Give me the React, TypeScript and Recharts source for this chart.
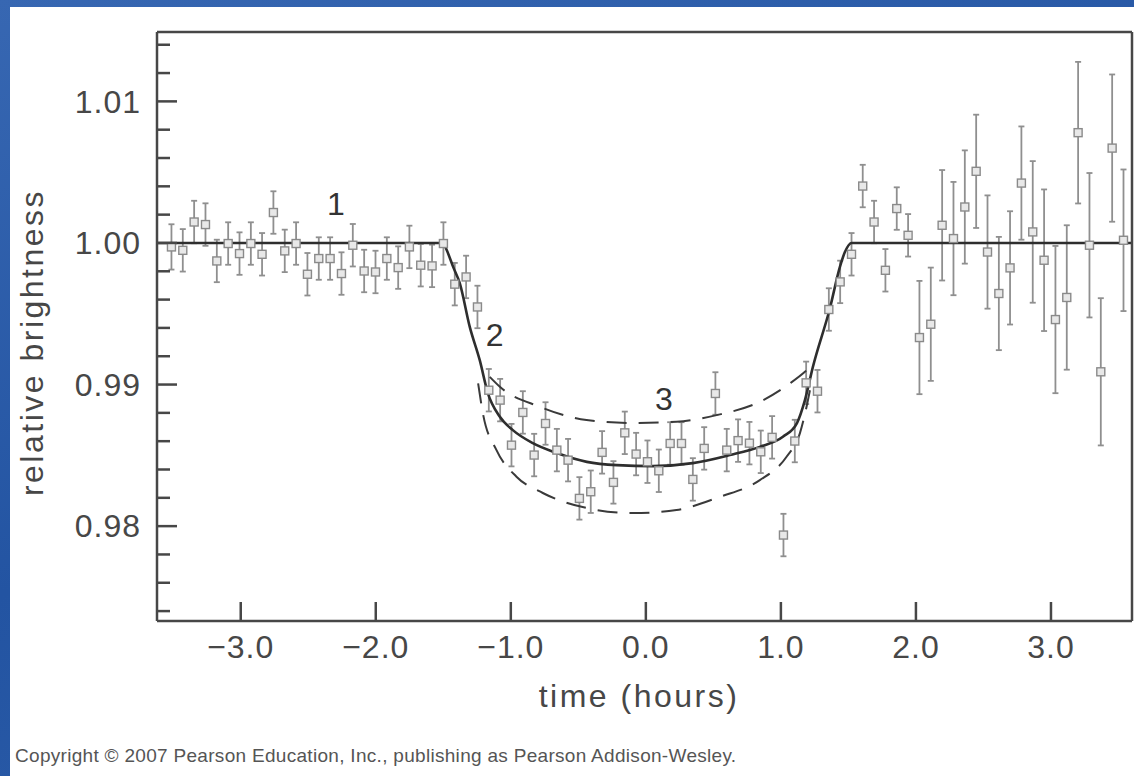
import React from "react";
import { ComposedChart, Scatter, Line, XAxis, YAxis, ErrorBar, ReferenceDot, Label } from "recharts";

const FONT = '"Liberation Sans", Arial, Helvetica, sans-serif';
const INK = "#474747";

// observation times (hours from mid-transit)
const times = [
  -3.513, -3.429, -3.345, -3.261, -3.177, -3.093, -3.009, -2.925, -2.842, -2.758,
  -2.674, -2.59, -2.506, -2.422, -2.338, -2.254, -2.17, -2.086, -2.002, -1.918,
  -1.834, -1.751, -1.667, -1.583, -1.499, -1.415, -1.331, -1.247, -1.163, -1.079,
  -0.995, -0.911, -0.827, -0.743, -0.659, -0.576, -0.492, -0.408, -0.324, -0.24,
  -0.156, -0.072, 0.012, 0.096, 0.18, 0.264, 0.348, 0.432, 0.515, 0.599,
  0.683, 0.767, 0.851, 0.935, 1.019, 1.103, 1.187, 1.271, 1.355, 1.439,
  1.523, 1.606, 1.69, 1.774, 1.858, 1.942, 2.026, 2.11, 2.194, 2.278,
  2.362, 2.446, 2.53, 2.614, 2.697, 2.781, 2.865, 2.949, 3.033, 3.117,
  3.201, 3.285, 3.369, 3.453, 3.537,
];

const brightness = [
  0.99972, 0.99948, 1.00148, 1.0013, 0.99873, 0.99996, 0.99925, 0.99996, 0.9992, 1.00215,
  0.99944, 0.99996, 0.99779, 0.9989, 0.9989, 0.99784, 0.99984, 0.99802, 0.99795, 0.9989,
  0.99826, 0.99972, 0.99843, 0.99838, 0.99996, 0.99709, 0.9976, 0.99548, 0.9896, 0.9889,
  0.98572, 0.98803, 0.98502, 0.98725, 0.98537, 0.98466, 0.98196, 0.98243, 0.98521, 0.98309,
  0.98659, 0.98509, 0.98455, 0.98391, 0.98584, 0.98584, 0.9833, 0.98549, 0.98937, 0.98537,
  0.98604, 0.98586, 0.98525, 0.98627, 0.97937, 0.98601, 0.99012, 0.98953, 0.9953, 0.99725,
  0.9992, 1.00402, 1.00148, 0.99807, 1.00243, 1.00054, 0.99332, 0.99426, 1.00125, 1.00031,
  1.00254, 1.00506, 0.99936, 0.99643, 0.99824, 1.00423, 1.00078, 0.99878, 0.99459, 0.99615,
  1.00779, 0.99984, 0.9909, 1.0067, 1.00019,
];

const errors = [
  0.0016, 0.0015, 0.0015, 0.0015, 0.0015, 0.0015, 0.0015, 0.0015, 0.0015, 0.0015,
  0.0015, 0.0015, 0.0015, 0.0015, 0.0015, 0.0015, 0.0015, 0.0015, 0.0015, 0.0015,
  0.0015, 0.0015, 0.0015, 0.0015, 0.0015, 0.0015, 0.0015, 0.0015, 0.0015, 0.0015,
  0.0015, 0.0015, 0.0015, 0.0015, 0.0015, 0.0015, 0.0015, 0.0015, 0.0015, 0.0015,
  0.0015, 0.0015, 0.0015, 0.0015, 0.0015, 0.0015, 0.0015, 0.0015, 0.0015, 0.0015,
  0.0015, 0.0015, 0.0015, 0.0015, 0.0015, 0.0015, 0.0015, 0.0015, 0.0015, 0.0015,
  0.0015, 0.0015, 0.0015, 0.0015, 0.0015, 0.0015, 0.004, 0.004, 0.0039, 0.004,
  0.004, 0.004, 0.004, 0.004, 0.004, 0.004, 0.005, 0.005, 0.0052, 0.0051,
  0.005, 0.0051, 0.0052, 0.0052, 0.005,
];

// best-fit transit model (solid)
const modelX = [
  -3.62, -1.501, -1.474, -1.427, -1.378, -1.304, -1.23, -1.17, -1.081, -0.985,
  -0.837, -0.659, -0.437, -0.215, 0.052, 0.348, 0.622, 0.844, 1.015, 1.119,
  1.178, 1.237, 1.363, 1.437, 1.474, 1.524, 3.6,
];
const modelY = [
  1.0, 1.0, 0.99948, 0.99831, 0.99716, 0.99407, 0.99172, 0.98939, 0.98772, 0.98678,
  0.98586, 0.98516, 0.98454, 0.98431, 0.98424, 0.98445, 0.98502, 0.9856, 0.98631, 0.98728,
  0.9889, 0.99125, 0.99539, 0.99831, 0.99936, 1.0, 1.0,
];

// alternative models (dashed)
const shallowX = [-1.156, -1.081, -0.785, -0.439, -0.096, 0.227, 0.524, 0.844, 1.067, 1.178, 1.23];
const shallowY = [0.99054, 0.98984, 0.98843, 0.98749, 0.98728, 0.98737, 0.98784, 0.98878, 0.99008, 0.9909, 0.99137];

const deepX = [-1.242, -1.207, -1.106, -0.958, -0.763, -0.439, -0.096, 0.227, 0.548, 0.844, 1.042, 1.141, 1.19, 1.215];
const deepY = [0.99008, 0.98798, 0.98537, 0.98349, 0.98234, 0.98128, 0.98092, 0.98114, 0.98207, 0.98325, 0.9849, 0.98657, 0.98843, 0.9896];

const xTicks = [-3, -2, -1, 0, 1, 2, 3];
const yTicks = [
  0.974, 0.976, 0.978, 0.98, 0.982, 0.984, 0.986, 0.988, 0.99, 0.992, 0.994,
  0.996, 0.998, 1.0, 1.002, 1.004, 1.006, 1.008, 1.01, 1.012, 1.014,
];
const xDomain: [number, number] = [-3.62, 3.6];
const yDomain: [number, number] = [0.9733, 1.0149];

const notes = [
  { text: "1", x: -2.296, y: 1.0028 },
  { text: "2", x: -1.119, y: 0.99356 },
  { text: "3", x: 0.133, y: 0.98897 },
];

const obs = times.map((t, i) => ({ x: t, y: brightness[i], err: errors[i] }));
const model = modelX.map((x, i) => ({ x, y: modelY[i] }));
const shallow = shallowX.map((x, i) => ({ x, y: shallowY[i] }));
const deep = deepX.map((x, i) => ({ x, y: deepY[i] }));

const Square = (p: any) => (
  <rect x={p.cx - 4} y={p.cy - 4} width={8} height={8} fill="#e8e8e8" stroke="#8a8a8a" strokeWidth={1.4} />
);

const YTick = (p: any) => {
  const v = p.payload.value;
  const major = Math.abs(v * 100 - Math.round(v * 100)) < 1e-6;
  const x0 = p.x + 17;
  return (
    <g>
      <line x1={x0} x2={x0 + (major ? 20 : 13)} y1={p.y} y2={p.y} stroke={INK} strokeWidth={2.5} />
      {major && (
        <text x={p.x + 1} y={p.y} dy="0.355em" textAnchor="end" fontSize={32} letterSpacing={1} fill={INK} fontFamily={FONT}>
          {v.toFixed(2)}
        </text>
      )}
    </g>
  );
};

const XTick = (p: any) => {
  const v = p.payload.value;
  const y0 = p.y - 14;
  const txt = v < 0 ? "\u2212" + Math.abs(v).toFixed(1) : v.toFixed(1);
  return (
    <g>
      <line x1={p.x} x2={p.x} y1={y0} y2={y0 - 19} stroke={INK} strokeWidth={2.5} />
      <text x={p.x} y={p.y} dy="0.71em" textAnchor="middle" fontSize={32} letterSpacing={1} fill={INK} fontFamily={FONT}>
        {txt}
      </text>
    </g>
  );
};

export default function App() {
  return (
    <div style={{ position: "absolute", left: 0, top: 0, width: 1134, height: 776, overflow: "hidden",
      background: "linear-gradient(160deg, #3767b2 0%, #2354a2 50%, #2f60ab 100%)" }}>
      <div style={{ position: "absolute", left: 10, top: 7, width: 1124, height: 769, background: "#ffffff" }} />
      <div style={{ position: "absolute", left: 0, top: 0 }}>
        <ComposedChart width={1134} height={776} margin={{ top: 30, right: 0, bottom: 0, left: 0 }} style={{ fontFamily: FONT }}>
          <XAxis dataKey="x" type="number" domain={xDomain} allowDataOverflow ticks={xTicks} interval={0}
            height={155} tickSize={0} tickMargin={14} tick={<XTick />}
            axisLine={{ stroke: INK, strokeWidth: 2.5 }}>
            <Label content={(p: any) => {
              const vb = p.viewBox;
              return (
                <text x={vb.x + 482} y={vb.y + 86} textAnchor="middle" fontSize={32} letterSpacing={2.5} fill={INK} fontFamily={FONT}>
                  time (hours)
                </text>
              );
            }} />
          </XAxis>
          <XAxis xAxisId="top" orientation="top" type="number" domain={xDomain} allowDataOverflow height={2}
            tick={false} tickLine={false} axisLine={{ stroke: INK, strokeWidth: 2.5 }} />
          <YAxis dataKey="y" type="number" domain={yDomain} allowDataOverflow ticks={yTicks} interval={0}
            width={157} tickSize={0} tickMargin={17} tick={<YTick />}
            axisLine={{ stroke: INK, strokeWidth: 2.5 }}>
            <Label content={(p: any) => {
              const vb = p.viewBox;
              const cx = vb.x + 43;
              const cy = vb.y + vb.height / 2 + 16;
              return (
                <text x={cx} y={cy} transform={`rotate(-90, ${cx}, ${cy})`} textAnchor="middle" fontSize={32}
                  letterSpacing={2.5} fill={INK} fontFamily={FONT}>
                  relative brightness
                </text>
              );
            }} />
          </YAxis>
          <YAxis yAxisId="frame" orientation="right" type="number" domain={yDomain} allowDataOverflow width={2}
            tick={false} tickLine={false} axisLine={{ stroke: INK, strokeWidth: 2.5 }} />

          <Scatter data={obs} fill="#e8e8e8" shape={<Square />} isAnimationActive={false}>
            <ErrorBar dataKey="err" direction="y" width={3} stroke="#8f8f8f" strokeWidth={1.8} isAnimationActive={false} />
          </Scatter>

          <Line data={shallow} dataKey="y" type="monotone" stroke="#3a3a3a" strokeWidth={2} strokeDasharray="20 12"
            dot={false} activeDot={false} isAnimationActive={false} />
          <Line data={deep} dataKey="y" type="monotone" stroke="#3a3a3a" strokeWidth={2} strokeDasharray="20 12"
            dot={false} activeDot={false} isAnimationActive={false} />
          <Line data={model} dataKey="y" type="monotone" stroke="#2e2e2e" strokeWidth={2.6}
            dot={false} activeDot={false} isAnimationActive={false} />

          {notes.map((n) => (
            <ReferenceDot key={n.text} x={n.x} y={n.y} r={0} fill="none" stroke="none"
              label={{ value: n.text, position: "center", fontSize: 32, fill: "#333", fontFamily: FONT }} />
          ))}
        </ComposedChart>
      </div>
      <div style={{ position: "absolute", left: 15, top: 747, fontFamily: FONT, fontSize: 19, lineHeight: "18px",
        letterSpacing: "0.3px", color: "#555", whiteSpace: "nowrap" }}>
        Copyright © 2007 Pearson Education, Inc., publishing as Pearson Addison-Wesley.
      </div>
    </div>
  );
}
